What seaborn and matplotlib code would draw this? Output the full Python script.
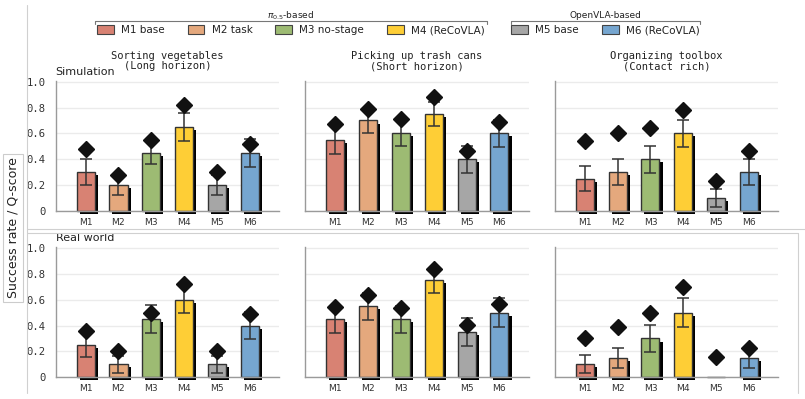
import numpy as np
import pandas as pd
import matplotlib
matplotlib.use("Agg")
import matplotlib.pyplot as plt
import matplotlib.patheffects as pe
from matplotlib.patches import Patch
from matplotlib.lines import Line2D
from matplotlib.ticker import FixedLocator, FixedFormatter
import seaborn as sns

# ---------------- data ----------------
models = ["M1", "M2", "M3", "M4", "M5", "M6"]
legend_labels = ["M1 base", "M2 task", "M3 no-stage", "M4 (ReCoVLA)", "M5 base", "M6 (ReCoVLA)"]
colors = ["#d88273", "#e4a87d", "#9dbb73", "#fece36", "#a6a6a6", "#76a6d0"]
tasks = ["Sorting vegetables\n(Long horizon)",
         "Picking up trash cans\n(Short horizon)",
         "Organizing toolbox\n(Contact rich)"]
settings = ["Simulation", "Real world"]
group_labels = [r"$\pi_{0.5}$-based", "OpenVLA-based"]
ytick_values = [0, 0.2, 0.4, 0.6, 0.8, 1.0]
ytick_labels = ["0", "0.2", "0.4", "0.6", "0.8", "1.0"]

sim_veg_sr = [0.30, 0.20, 0.45, 0.65, 0.20, 0.45]
sim_veg_err = [0.10, 0.08, 0.085, 0.11, 0.08, 0.11]
sim_veg_q = [0.48, 0.28, 0.55, 0.82, 0.30, 0.52]

sim_trash_sr = [0.55, 0.70, 0.60, 0.75, 0.40, 0.60]
sim_trash_err = [0.11, 0.10, 0.10, 0.095, 0.105, 0.105]
sim_trash_q = [0.67, 0.79, 0.71, 0.88, 0.46, 0.685]

sim_tool_sr = [0.25, 0.30, 0.40, 0.60, 0.10, 0.30]
sim_tool_err = [0.095, 0.10, 0.105, 0.105, 0.07, 0.10]
sim_tool_q = [0.54, 0.60, 0.64, 0.78, 0.23, 0.46]

real_veg_sr = [0.25, 0.10, 0.45, 0.60, 0.10, 0.40]
real_veg_err = [0.095, 0.065, 0.11, 0.105, 0.065, 0.105]
real_veg_q = [0.36, 0.20, 0.50, 0.72, 0.20, 0.49]

real_trash_sr = [0.45, 0.55, 0.45, 0.75, 0.35, 0.50]
real_trash_err = [0.105, 0.105, 0.105, 0.095, 0.105, 0.11]
real_trash_q = [0.545, 0.635, 0.535, 0.835, 0.405, 0.565]

real_tool_sr = [0.10, 0.15, 0.30, 0.50, 0.00, 0.15]
real_tool_err = [0.07, 0.08, 0.105, 0.11, 0.00, 0.08]
real_tool_q = [0.30, 0.385, 0.495, 0.695, 0.155, 0.23]

panels = [
    [(sim_veg_sr, sim_veg_err, sim_veg_q),
     (sim_trash_sr, sim_trash_err, sim_trash_q),
     (sim_tool_sr, sim_tool_err, sim_tool_q)],
    [(real_veg_sr, real_veg_err, real_veg_q),
     (real_trash_sr, real_trash_err, real_trash_q),
     (real_tool_sr, real_tool_err, real_tool_q)],
]

# ---------------- style ----------------
sns.set_style("whitegrid", {"grid.color": "#ebebeb", "axes.edgecolor": "#9a9a9a"})
plt.rcParams["font.family"] = ["DejaVu Sans"]

W, H = 805, 399
fig = plt.figure(figsize=(W / 100, H / 100), dpi=100)


def fx(px):
    return px / W


def fy(py):
    return 1 - py / H


palette = dict(zip(models, colors))
lefts = [55.7, 305.2, 554.8]
ax_w = 223.5
rows_top = [81.0, 247.3]
ax_h = 130.0

for r in range(2):
    for c in range(3):
        ax = fig.add_axes([fx(lefts[c]), fy(rows_top[r] + ax_h), ax_w / W, ax_h / H])
        sr, err, q = panels[r][c]
        df = pd.DataFrame({"model": models, "sr": sr, "err": err, "q": q})
        sns.barplot(data=df, x="model", y="sr", hue="model", palette=palette,
                    saturation=1, width=0.55, edgecolor="#333333", linewidth=1.0,
                    errorbar=None, legend=False, ax=ax, zorder=2)
        for p in ax.patches:
            p.set_clip_on(False)
            p.set_path_effects([pe.withSimplePatchShadow(offset=(2.2, -2.2),
                                                          shadow_rgbFace="black",
                                                          alpha=1.0)])
        xs = np.arange(len(models))
        errs = np.array(err)
        m = errs > 0
        ax.errorbar(xs[m], np.array(sr)[m], yerr=errs[m], fmt="none",
                    ecolor="#333333", elinewidth=1.1, capsize=4.3, capthick=1.1,
                    zorder=3)
        ax.plot(xs, q, linestyle="none", marker="D", markersize=8.3,
                color="#111111", zorder=4, clip_on=False)

        ax.set_xlim(-0.91, 5.89)
        ax.set_ylim(0, 1.005)
        ax.grid(axis="x", visible=False)
        ax.grid(axis="y", color="#ebebeb", linewidth=1.0)
        ax.set_axisbelow(True)
        for s in ["top", "right"]:
            ax.spines[s].set_visible(False)
        for s in ["left", "bottom"]:
            ax.spines[s].set_color("#9a9a9a")
            ax.spines[s].set_linewidth(1.0)
        ax.set_xlabel("")
        ax.set_ylabel("")
        ax.yaxis.set_major_locator(FixedLocator(ytick_values))
        ax.tick_params(axis="both", length=0)
        ax.tick_params(axis="x", pad=5, labelsize=6.6, labelcolor="#333333")
        if c == 0:
            ax.yaxis.set_major_formatter(FixedFormatter(ytick_labels))
            ax.tick_params(axis="y", pad=7, labelsize=7.6, labelcolor="#333333")
            for t in ax.get_yticklabels():
                t.set_fontfamily("DejaVu Sans Mono")
            ax.text(0.0, 1.069, settings[r], transform=ax.transAxes,
                    ha="left", va="center", fontsize=8, color="#222222")
        else:
            ax.set_yticklabels([])
        if r == 0:
            ax.set_title(tasks[c], fontsize=7.5, fontfamily="DejaVu Sans Mono",
                         pad=8.5, linespacing=1.05, color="#222222")

# y label
fig.text(fx(13), fy(228), "Success rate / Q-score", rotation=90, ha="center",
         va="center", fontsize=9, color="#222222",
         bbox=dict(boxstyle="square,pad=0.25", fc="white", ec="#cccccc", lw=0.8))

# legends
handles = [Patch(facecolor=col, edgecolor="#444444", linewidth=0.8, label=lab)
           for col, lab in zip(colors, legend_labels)]
common = dict(frameon=False, fontsize=7.5, handlelength=1.6, handleheight=1.0,
              handletextpad=0.7, columnspacing=2.2, borderpad=0, borderaxespad=0,
              loc="center")
leg1 = fig.legend(handles=handles[:4], ncol=4, bbox_to_anchor=(fx(291), fy(30)), **common)
leg2 = fig.legend(handles=handles[4:], ncol=2, bbox_to_anchor=(fx(605.5), fy(30)), **common)
for t in list(leg1.get_texts()) + list(leg2.get_texts()):
    t.set_color("#222222")

fig.text(fx(291), fy(15.7), group_labels[0], ha="center", va="center",
         fontsize=6.5, color="#222222")
fig.text(fx(605.5), fy(15.7), group_labels[1], ha="center", va="center",
         fontsize=6.5, color="#222222")
for x0, x1 in [(95, 487), (511, 700)]:
    fig.add_artist(Line2D([fx(x0), fx(x0), fx(x1), fx(x1)],
                          [fy(24), fy(20.7), fy(20.7), fy(24)],
                          transform=fig.transFigure, color="#777777", lw=0.8))

# light frame lines
frame_c = "#d0d0d0"
for xs_, ys_ in [([27, 27], [5, 393]),
                 ([27, 805], [229, 229]),
                 ([27, 798], [233, 233]),
                 ([798, 798], [233, 393])]:
    fig.add_artist(Line2D([fx(v) for v in xs_], [fy(v) for v in ys_],
                          transform=fig.transFigure, color=frame_c, lw=0.8))

fig.savefig("out.png", dpi=100)
